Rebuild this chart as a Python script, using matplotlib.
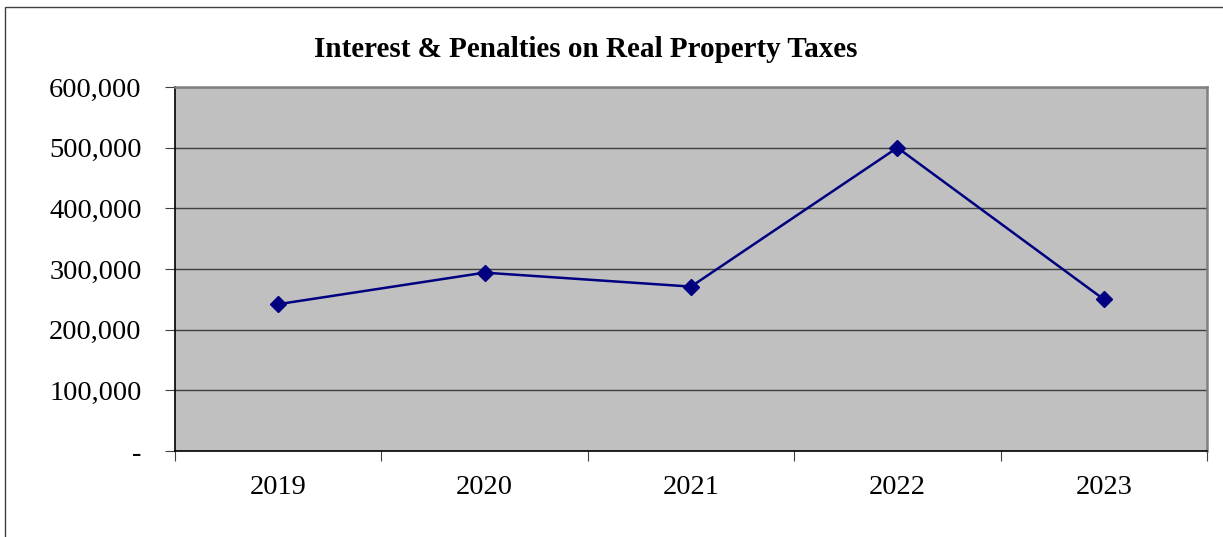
import matplotlib.pyplot as plt
from matplotlib.patches import Rectangle
from matplotlib.ticker import FuncFormatter, FixedLocator

years = ['2019', '2020', '2021', '2022', '2023']
values = [242000, 294000, 271000, 500000, 250000]
yticks = [0, 100000, 200000, 300000, 400000, 500000, 600000]

plt.rcParams['font.family'] = ['Liberation Serif', 'DejaVu Serif']

fig = plt.figure(figsize=(12.23, 5.37), dpi=100)
ax = fig.add_axes([175/1223, 86/537, 1032/1223, 364/537])
ax.set_facecolor('#c0c0c0')

x = list(range(len(years)))
ax.plot(x, values, color='#000080', lw=1.8, marker='D', markersize=8,
        markerfacecolor='#000080', markeredgecolor='#000080', zorder=3)

ax.set_xlim(-0.5, len(years) - 0.5)
ax.set_ylim(0, 600000)
ax.set_yticks(yticks)
ax.yaxis.set_major_formatter(FuncFormatter(lambda v, p: '-' if v == 0 else '{:,.0f}'.format(v)))
ax.grid(axis='y', color='#404040', lw=1)
ax.set_axisbelow(True)

# category labels between boundary ticks
ax.xaxis.set_major_locator(FixedLocator([i - 0.5 for i in range(len(years) + 1)]))
ax.xaxis.set_major_formatter(FuncFormatter(lambda v, p: ''))
ax.set_xticks(x, minor=True)
ax.set_xticklabels(years, minor=True)
ax.tick_params(axis='x', which='minor', length=0, labelsize=20.5, pad=17)
ax.tick_params(axis='x', which='major', length=7, color='#404040', direction='out')
ax.tick_params(axis='y', length=7, labelsize=20.5, pad=17, color='#404040')

for s in ['left', 'bottom']:
    ax.spines[s].set_color('black')
    ax.spines[s].set_linewidth(1.2)
for s in ['top', 'right']:
    ax.spines[s].set_color('#808080')
    ax.spines[s].set_linewidth(1.8)

fig.text(0.479, 0.907, 'Interest & Penalties on Real Property Taxes',
         ha='center', va='center', fontsize=21, fontweight='bold')

fig.patches.append(Rectangle((5/1223, -0.2), 1.2, 1.2 - 7/537,
                             transform=fig.transFigure, fill=False,
                             edgecolor='#404040', lw=1))

plt.savefig('out.png', dpi=100)
